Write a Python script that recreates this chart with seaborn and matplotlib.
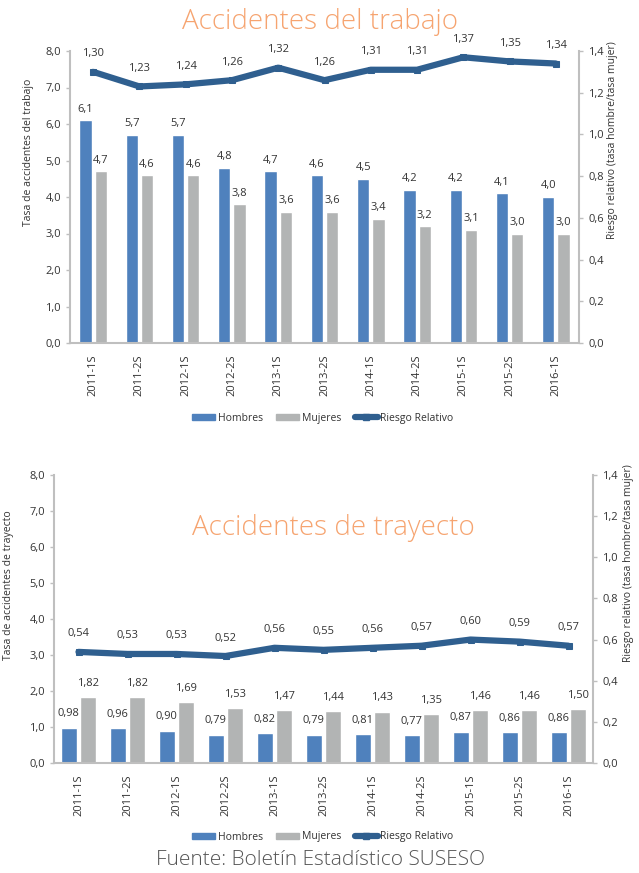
import numpy as np
import pandas as pd
import matplotlib
matplotlib.use("Agg")
import matplotlib.pyplot as plt
from matplotlib.lines import Line2D
from matplotlib.patches import Patch
import seaborn as sns

sns.set_theme(style="white")
plt.rcParams['font.family'] = ['Open Sans', 'DejaVu Sans']

categories = ["2011-1S", "2011-2S", "2012-1S", "2012-2S", "2013-1S", "2013-2S",
              "2014-1S", "2014-2S", "2015-1S", "2015-2S", "2016-1S"]

trabajo_hombres = [6.1, 5.7, 5.7, 4.8, 4.7, 4.6, 4.5, 4.2, 4.2, 4.1, 4.0]
trabajo_mujeres = [4.7, 4.6, 4.6, 3.8, 3.6, 3.6, 3.4, 3.2, 3.1, 3.0, 3.0]
trabajo_riesgo = [1.30, 1.23, 1.24, 1.26, 1.32, 1.26, 1.31, 1.31, 1.37, 1.35, 1.34]

trayecto_hombres = [0.98, 0.96, 0.90, 0.79, 0.82, 0.79, 0.81, 0.77, 0.87, 0.86, 0.86]
trayecto_mujeres = [1.82, 1.82, 1.69, 1.53, 1.47, 1.44, 1.43, 1.35, 1.46, 1.46, 1.50]
trayecto_riesgo = [0.54, 0.53, 0.53, 0.52, 0.56, 0.55, 0.56, 0.57, 0.60, 0.59, 0.57]

left_ticks = [0, 1, 2, 3, 4, 5, 6, 7, 8]
right_ticks = [0.0, 0.2, 0.4, 0.6, 0.8, 1.0, 1.2, 1.4]

C_H = "#4F81BD"
C_M = "#B2B4B4"
C_R = "#2F5F8F"
C_SP = "#BFBFBF"
C_TXT = "#333333"
C_TITLE = "#F6A470"
FS = 8

def fmt(v, d):
    return f"{v:.{d}f}".replace(".", ",")

fig = plt.figure(figsize=(6.39, 8.73), dpi=100)

def draw(rect, hombres, mujeres, riesgo, width, dec_bar, bar_lab_off, line_lab_off):
    ax = fig.add_axes(rect)
    df = pd.DataFrame({
        "cat": categories * 2,
        "val": list(hombres) + list(mujeres),
        "serie": ["Hombres"] * len(categories) + ["Mujeres"] * len(categories),
    })
    sns.barplot(data=df, x="cat", y="val", hue="serie", palette=[C_H, C_M],
                width=width, gap=0.2, ax=ax, legend=False, saturation=1)
    ax.set_ylim(0, 8)
    ax.set_yticks(left_ticks)
    ax.set_yticklabels([fmt(t, 1) for t in left_ticks])
    ax.set_xlim(-0.5, len(categories) - 0.5)
    ax.set_xlabel("")
    ax.set_ylabel("")
    ax.tick_params(axis="x", rotation=90, labelsize=FS, colors=C_TXT, length=0, pad=8)
    ax.tick_params(axis="y", labelsize=FS, colors=C_TXT, length=3, width=1, color=C_SP, left=True)
    for s in ["top", "right"]:
        ax.spines[s].set_visible(False)
    for s in ["left", "bottom"]:
        ax.spines[s].set_color(C_SP)
        ax.spines[s].set_linewidth(1.5)
    for cont in ax.containers:
        for rect_, v in zip(cont, cont.datavalues):
            ax.annotate(fmt(v, dec_bar), (rect_.get_x() + rect_.get_width() / 2, rect_.get_height()),
                        xytext=(0, bar_lab_off), textcoords="offset points",
                        ha="center", va="bottom", fontsize=FS, color=C_TXT)
    ax2 = ax.twinx()
    xs = np.arange(len(categories))
    sns.lineplot(x=xs, y=riesgo, ax=ax2, color=C_R, linewidth=4.5, marker="s",
                 markersize=4, markeredgecolor=C_R, legend=False)
    ax2.set_ylim(0, 1.4)
    ax2.set_yticks(right_ticks)
    ax2.set_yticklabels([fmt(t, 1) for t in right_ticks])
    ax2.tick_params(axis="y", labelsize=FS, colors=C_TXT, length=3, width=1, color=C_SP, right=True)
    for s in ["top", "left", "bottom"]:
        ax2.spines[s].set_visible(False)
    ax2.spines["right"].set_color(C_SP)
    ax2.spines["right"].set_linewidth(1.5)
    ax2.set_xlim(-0.5, len(categories) - 0.5)
    for x, v in zip(xs, riesgo):
        ax2.annotate(fmt(v, 2), (x, v), xytext=(0, line_lab_off), textcoords="offset points",
                     ha="center", va="bottom", fontsize=FS, color=C_TXT)
    return ax, ax2

def legend(y):
    handles = [Patch(color=C_H), Patch(color=C_M),
               Line2D([0], [0], color=C_R, linewidth=4.5, marker="s", markersize=4)]
    fig.legend(handles, ["Hombres", "Mujeres", "Riesgo Relativo"], loc="center",
               bbox_to_anchor=(0.505, y), ncol=3, frameon=False, fontsize=7.5,
               handlelength=2.2, handleheight=0.6, columnspacing=1.3, handletextpad=0.25,
               labelcolor=C_TXT)

# Top chart
draw([70 / 639, 1 - 343 / 873, 509 / 639, 292 / 873],
     trabajo_hombres, trabajo_mujeres, trabajo_riesgo, 0.66, 1, 4, 9)
fig.text(320 / 639, 1 - 22 / 873, "Accidentes del trabajo", ha="center", va="center",
         fontsize=20, color=C_TITLE, fontweight="light")
fig.text(29 / 639, 1 - 152 / 873, "Tasa de accidentes del trabajo", rotation=90,
         ha="center", va="center", fontsize=7.5, color=C_TXT)
fig.text(612 / 639, 1 - 140 / 873, "Riesgo relativo (tasa hombre/tasa mujer)", rotation=90,
         ha="center", va="center", fontsize=7.5, color=C_TXT)
legend(1 - 418 / 873)

# Bottom chart
draw([54 / 639, 1 - 763 / 873, 539 / 639, 288 / 873],
     trayecto_hombres, trayecto_mujeres, trayecto_riesgo, 0.8, 2, 6, 9)
fig.text(333 / 639, 1 - 528 / 873, "Accidentes de trayecto", ha="center", va="center",
         fontsize=20, color=C_TITLE, fontweight="light")
fig.text(9 / 639, 1 - 585 / 873, "Tasa de accidentes de trayecto", rotation=90,
         ha="center", va="center", fontsize=7.5, color=C_TXT)
fig.text(629 / 639, 1 - 563 / 873, "Riesgo relativo (tasa hombre/tasa mujer)", rotation=90,
         ha="center", va="center", fontsize=7.5, color=C_TXT)
legend(1 - 837 / 873)

fig.text(320 / 639, 1 - 860 / 873, "Fuente: Boletín Estadístico SUSESO", ha="center",
         va="center", fontsize=15, color="#555555", fontweight="light")

fig.savefig("out.png", dpi=100)
